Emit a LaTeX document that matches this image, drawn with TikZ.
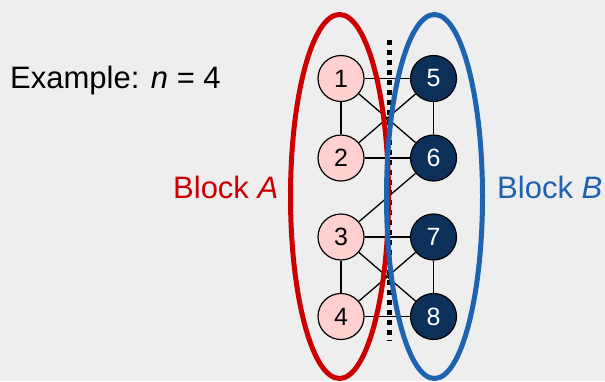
\documentclass[tikz,border=0pt]{standalone}
\usepackage{fontspec}
\setmainfont{Liberation Sans}
\definecolor{bggray}{HTML}{EEEEEE}
\definecolor{pinkfill}{HTML}{FFD0D0}
\definecolor{navyfill}{HTML}{0C3059}
\definecolor{blockred}{HTML}{CC0000}
\definecolor{blockblue}{HTML}{1E62B0}
\pgfdeclarelayer{back}
\pgfsetlayers{back,main}
\begin{document}
\begin{tikzpicture}[x=1pt,y=-1pt,
  vtx/.style={circle,draw=black,line width=1.2pt,minimum size=46pt,inner sep=0pt,
    font=\fontsize{25}{25}\selectfont},
  avtx/.style={vtx,fill=pinkfill,text=black},
  bvtx/.style={vtx,fill=navyfill,text=white},
  edge/.style={draw=black,line width=1.3pt},
  blockring/.style={line width=5pt},
  label/.style={inner sep=0pt,anchor=base west,font=\fontsize{31}{31}\selectfont}]
  \useasboundingbox (0,0) rectangle (605,381);

  % vertices
  \node[avtx] (v1) at (341,78.5) {1};
  \node[avtx] (v2) at (341,158) {2};
  \node[avtx] (v3) at (341,237) {3};
  \node[avtx] (v4) at (341,316.5) {4};
  \node[bvtx] (v5) at (433.5,78.5) {5};
  \node[bvtx] (v6) at (433.5,158) {6};
  \node[bvtx] (v7) at (433.5,237) {7};
  \node[bvtx] (v8) at (433.5,316.5) {8};

  % cut between the two blocks
  \coordinate (cutTop) at (389.5,40);
  \coordinate (cutBot) at (389.5,341);

  \begin{pgfonlayer}{back}
    % canvas
    \fill[bggray] (0,0) rectangle (605,381);
    \draw[black,line width=5.5pt,dash pattern=on 5pt off 5pt] (cutTop) -- (cutBot);
    % edges
    \foreach \a/\b in {v1/v5,v1/v2,v1/v6,v2/v5,v2/v6,v5/v6,v3/v6,v3/v7,v3/v8,v3/v4,v4/v7,v4/v8,v7/v8}
      \draw[edge] (\a) -- (\b);
  \end{pgfonlayer}

  % block outlines
  \draw[blockring,blockred] (339.5,196.5) ellipse [x radius=49, y radius=182];
  \draw[blockring,blockblue] (434.5,196.5) ellipse [x radius=48, y radius=182];

  % labels
  \node[label,text=black] (example) at (10,88) {Example: \textit{n} = 4};
  \node[label,text=blockred] (blockA) at (173,198) {Block \textit{A}};
  \node[label,text=blockblue] (blockB) at (497,198) {Block \textit{B}};
\end{tikzpicture}
\end{document}
